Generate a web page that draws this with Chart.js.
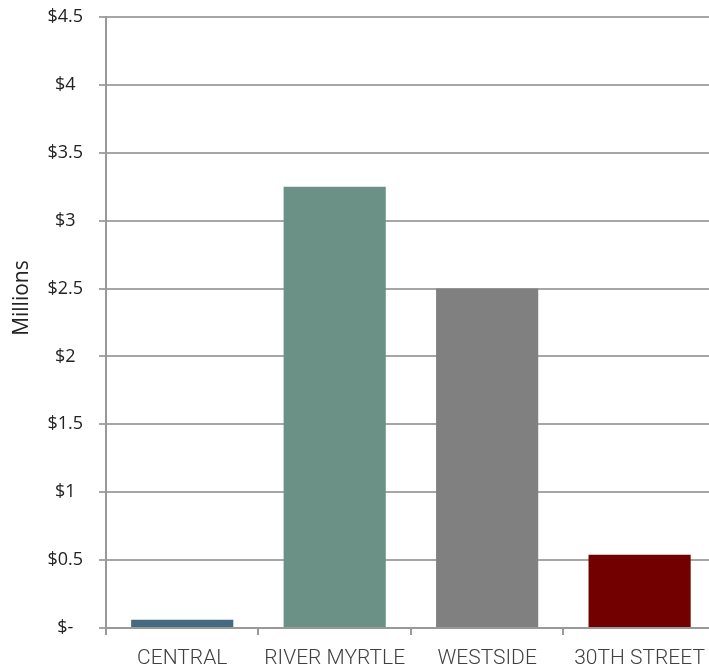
<!DOCTYPE html>
<html>
  <head>
    <meta charset="UTF-8">
    <title>Millions by site</title>
    <script src="https://cdn.jsdelivr.net/npm/chart.js@4"></script>
    <style>
      html, body { margin: 0; padding: 0; overflow: hidden; background: #fff; }
      #wrap { width: 716px; height: 668px; }
    </style>
  </head>
  <body>
    <div id='wrap'><canvas id='siteChart'></canvas></div>

    <script>
      // values, in millions of dollars
      const sites = ['CENTRAL', 'RIVER MYRTLE', 'WESTSIDE', '30TH STREET'];
      const amounts = [0.06, 3.25, 2.5, 0.54];
      const barColors = ['#436a80', '#6b9187', '#808080', '#720000'];
      const yMax = 4.5;
      const yStep = 0.5;
      const yTitle = 'Millions';

      const ctx = document.getElementById('siteChart').getContext('2d');

      // the axis title sits a bit above the middle in the original, so draw it here
      const yTitlePlugin = {
        id: 'yTitle',
        afterDraw(chart) {
          const c = chart.ctx;
          const area = chart.chartArea;
          c.save();
          c.translate(22, area.top + (area.bottom - area.top) * 0.46);
          c.rotate(-Math.PI / 2);
          c.font = '21px "Open Sans"';
          c.fillStyle = '#222';
          c.textAlign = 'center';
          c.textBaseline = 'middle';
          c.fillText(yTitle, 0, 0);
          c.restore();
        }
      };

      new Chart(ctx, {
        type: 'bar',
        data: {
          labels: sites,
          datasets: [{
            data: amounts,
            backgroundColor: barColors,
            barPercentage: 0.67,
            categoryPercentage: 1
          }]
        },
        options: {
          responsive: true,
          maintainAspectRatio: false,
          animation: false,
          layout: { padding: { top: 17, left: 9, right: 0, bottom: 0 } },
          plugins: {
            legend: { display: false },
            tooltip: { enabled: false }
          },
          scales: {
            x: {
              afterFit: s => { s.height = 40; },
              grid: {
                display: true,
                drawOnChartArea: false,
                color: '#999',
                lineWidth: 2,
                tickLength: 7
              },
              border: { color: '#999', width: 2 },
              ticks: {
                color: '#404040',
                font: { family: 'Roboto', size: 21, weight: 300 },
                padding: 11,
                maxRotation: 0
              }
            },
            y: {
              min: 0,
              max: yMax,
              afterFit: s => {
                s.width = 97;
                s.paddingTop = 0;
                s.paddingBottom = 0;
              },
              grid: {
                color: '#a6a6a6',
                lineWidth: 2,
                tickLength: 7
              },
              border: { color: '#999', width: 2 },
              ticks: {
                stepSize: yStep,
                color: '#222',
                crossAlign: 'center',
                padding: 16,
                font: { family: 'Open Sans', size: 18 },
                callback: v => v === 0 ? '$-' : '$' + v
              }
            }
          }
        },
        plugins: [yTitlePlugin]
      });
    </script>
  </body>
</html>
